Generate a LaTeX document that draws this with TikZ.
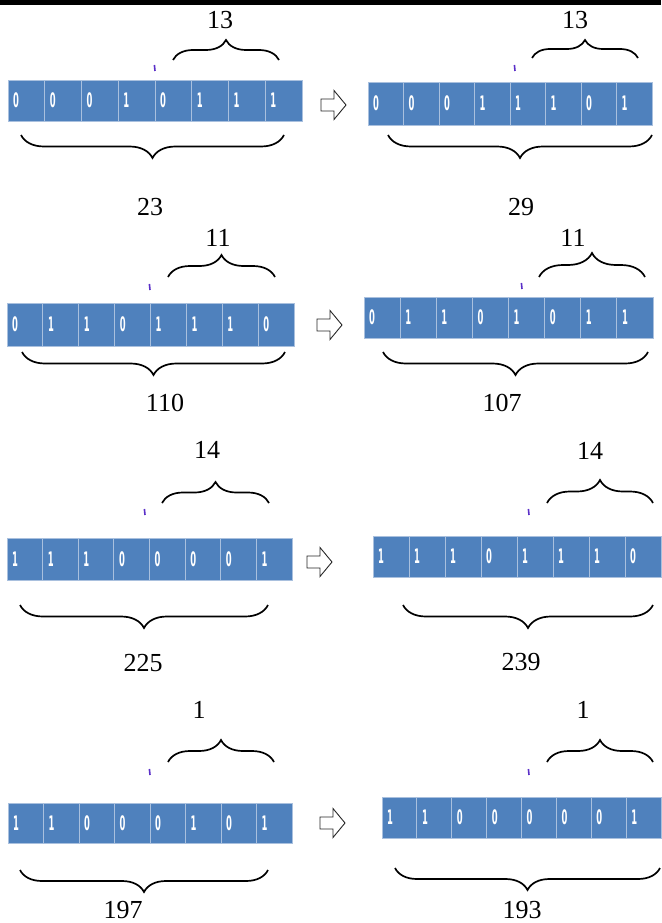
\documentclass[tikz,border=0pt]{standalone}
\usepackage{fontspec}
\usepackage{graphicx}
\setmainfont{Liberation Serif}
\newfontfamily\bitfont{DejaVu Sans}
\usetikzlibrary{decorations.pathreplacing}
\definecolor{barblue}{HTML}{4F81BD}
\definecolor{celledge}{HTML}{A9C0DE}
\definecolor{markc}{HTML}{5A2FC8}
\tikzset{
  cell/.style={fill=barblue, draw=celledge, line width=0.8pt, anchor=north west, inner sep=0pt, outer sep=0pt},
  bit/.style={text=white, anchor=west, inner sep=0pt, font=\bitfont\bfseries\fontsize{20}{20}\selectfont},
  lbl/.style={inner sep=0pt, font=\fontsize{26}{26}\selectfont},
  brc/.style={decorate, decoration={brace, amplitude=#1}, line width=1.7pt},
  brc/.default=21,
  blk/.style={draw=black!85, fill=white, line width=0.9pt, line join=miter},
  tick/.style={draw=markc, line width=1.6pt}
}
\newcommand\bitbar[6]{% name, x0, x1, y0, y1, bits
  \pgfmathsetmacro\cw{(#3-#2)/8}
  \pgfmathsetmacro\ch{#5-#4}
  \foreach \b [count=\i] in {#6} {
    \pgfmathsetmacro\cx{#2+(\i-1)*\cw}
    \node[cell, minimum width=\cw pt, minimum height=\ch pt] (#1-\i) at (\cx,#4) {};
    \node[bit] (#1-t\i) at ([xshift=5pt]#1-\i.west) {\scalebox{0.42}[1]{\b}};
  }
}
\newcommand\blockarrow[3]{% x0, yc, name
  \coordinate (#3) at (#1,#2);
  \draw[blk] ([yshift=6pt]#3) -- ++(13,0) -- ++(0,-8.5) -- ++(12,14.5) -- ++(-12,14.5) -- ++(0,-8.5) -- ++(-13,0) -- cycle;
}
\newcommand\bracepair[9]{% name, tx0, tx1, ty, tamp, bx1, bx0, by, bamp
  \coordinate (#1-ta) at (#2,#4);
  \coordinate (#1-tb) at (#3,#4);
  \coordinate (#1-ba) at (#6,#8);
  \coordinate (#1-bb) at (#7,#8);
  \draw[brc=#5] (#1-ta) -- (#1-tb);
  \draw[brc=#9] (#1-ba) -- (#1-bb);
}
\begin{document}
\begin{tikzpicture}[x=1pt,y=-1pt]
\useasboundingbox (0,0) rectangle (661,923);
\fill[black] (0,0) rectangle (661,5);

% Row 1
\bitbar{rAl}{8}{302}{80}{121}{0,0,0,1,0,1,1,1}
\bitbar{rAr}{368}{652}{82}{125}{0,0,0,1,1,1,0,1}
\bracepair{bAl}{173}{279}{60}{20}{284}{21}{135}{23}
\bracepair{bAr}{532}{638}{58}{18}{652}{388}{135}{23}
\node[lbl] (nAlt) at (220,20) {13};
\node[lbl] (nAlb) at (150,207) {23};
\node[lbl] (nArt) at (575,20) {13};
\node[lbl] (nArb) at (521,207) {29};
\blockarrow{321}{105}{aA}
\coordinate (mAl) at (155,68); \draw[tick] ([yshift=-3pt]mAl) -- ([yshift=3pt,xshift=-0.6pt]mAl);
\coordinate (mAr) at (515,68); \draw[tick] ([yshift=-3pt]mAr) -- ([yshift=3pt,xshift=-0.6pt]mAr);

% Row 2
\bitbar{rBl}{7}{294}{303}{346}{0,1,1,0,1,1,1,0}
\bitbar{rBr}{364}{653}{297}{338}{0,1,1,0,1,0,1,1}
\bracepair{bBl}{168}{275}{277}{22}{285}{22}{352}{23}
\bracepair{bBr}{539}{645}{277}{24}{648}{383}{352}{23}
\node[lbl] (nBlt) at (218,238) {11};
\node[lbl] (nBlb) at (165,403) {110};
\node[lbl] (nBrt) at (573,238) {11};
\node[lbl] (nBrb) at (502,403) {107};
\blockarrow{317}{325}{aB}
\coordinate (mBl) at (150,287); \draw[tick] ([yshift=-3pt]mBl) -- ([yshift=3pt,xshift=-0.6pt]mBl);
\coordinate (mBr) at (522,286); \draw[tick] ([yshift=-3pt]mBr) -- ([yshift=3pt,xshift=-0.6pt]mBr);

% Row 3
\bitbar{rCl}{7}{292}{538}{580}{1,1,1,0,0,0,0,1}
\bitbar{rCr}{373}{661}{536}{577}{1,1,1,0,1,1,1,0}
\bracepair{bCl}{162}{269}{503}{21}{268}{20}{605}{23}
\bracepair{bCr}{547}{653}{503}{23}{653}{403}{605}{23}
\node[lbl] (nClt) at (207,450) {14};
\node[lbl] (nClb) at (143,663) {225};
\node[lbl] (nCrt) at (590,451) {14};
\node[lbl] (nCrb) at (521,662) {239};
\blockarrow{307}{562}{aC}
\coordinate (mCl) at (145,512); \draw[tick] ([yshift=-3pt]mCl) -- ([yshift=3pt,xshift=-0.6pt]mCl);
\coordinate (mCr) at (529,512); \draw[tick] ([yshift=-3pt]mCr) -- ([yshift=3pt,xshift=-0.6pt]mCr);

% Row 4
\bitbar{rDl}{8}{292}{803}{843}{1,1,0,0,0,1,0,1}
\bitbar{rDr}{382}{661}{797}{838}{1,1,0,0,0,0,0,1}
\bracepair{bDl}{168}{274}{762}{22}{268}{20}{870}{22}
\bracepair{bDr}{547}{653}{762}{22}{660}{395}{868}{22}
\node[lbl] (nDlt) at (199,710) {1};
\node[lbl] (nDlb) at (123,910) {197};
\node[lbl] (nDrt) at (583,710) {1};
\node[lbl] (nDrb) at (522,910) {193};
\blockarrow{320}{823}{aD}
\coordinate (mDl) at (150,772); \draw[tick] ([yshift=-3pt]mDl) -- ([yshift=3pt,xshift=-0.6pt]mDl);
\coordinate (mDr) at (529,772); \draw[tick] ([yshift=-3pt]mDr) -- ([yshift=3pt,xshift=-0.6pt]mDr);
\end{tikzpicture}
\end{document}
